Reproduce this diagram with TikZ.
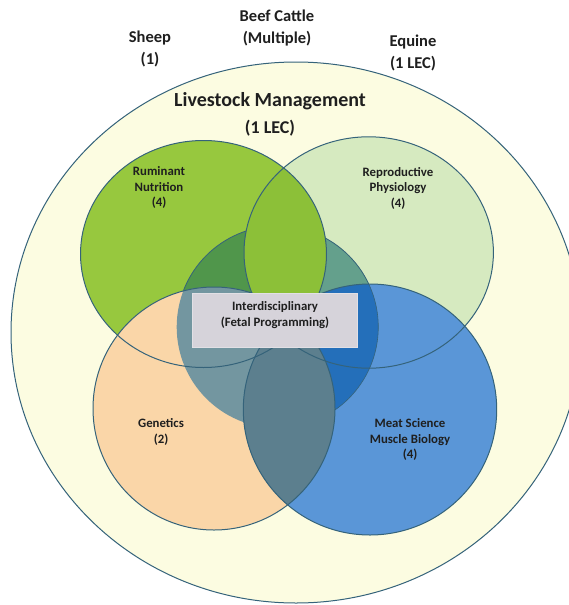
\documentclass[tikz,border=0pt]{standalone}
\usepackage{fontspec}
\setmainfont{Carlito}
\begin{document}
\begin{tikzpicture}[x=1pt,y=-1pt,
  lbl/.style={font=\bfseries, text=black!88, align=center, inner sep=0pt},
  toplbl/.style={lbl, font=\fontsize{16.5}{22}\selectfont\bfseries},
  inlbl/.style={lbl, font=\fontsize{12.8}{15.5}\selectfont\bfseries},
  ring/.style={draw=lineC, line width=1pt}
]
\definecolor{outerF}{HTML}{FCFCE1}
\definecolor{lineC}{HTML}{35637A}
\definecolor{rumF}{HTML}{97C83E}
\definecolor{repF}{HTML}{D6EAC0}
\definecolor{lensRR}{HTML}{8CC038}
\definecolor{cenRum}{HTML}{50964B}
\definecolor{cenRep}{HTML}{64A08C}
\definecolor{genF}{HTML}{FAD6A8}
\definecolor{cenGen}{HTML}{7396A0}
\definecolor{meatF}{HTML}{5A96D7}
\definecolor{cenMeat}{HTML}{246FBA}
\definecolor{genMeat}{HTML}{5C7F8E}
\definecolor{boxF}{HTML}{D6D3DA}
\definecolor{boxL}{HTML}{E2E0E5}

\def\outerE{(296,332.5) ellipse [x radius=285pt, y radius=270.5pt]}
\def\rumE{(203.5,254) ellipse [x radius=123pt, y radius=113.5pt]}
\def\repE{(368.7,252.5) ellipse [x radius=124.7pt, y radius=115.7pt]}
\def\cenE{(277.5,327) ellipse [x radius=100.8pt, y radius=101pt]}
\def\genE{(214,408.5) ellipse [x radius=121pt, y radius=121.5pt]}
\def\meatE{(370,409.5) ellipse [x radius=126.7pt, y radius=125.5pt]}

\useasboundingbox (0,0) rectangle (569,605);
\fill[white] (0,0) rectangle (569,605);
\clip (0,0) rectangle (569,605);

% outer circle
\fill[outerF] \outerE;

% ruminant and reproductive
\fill[rumF] \rumE;
\fill[repF] \repE;

% central circle
\fill[cenRum] \cenE;
\begin{scope}
  \clip \repE;
  \fill[cenRep] \cenE;
\end{scope}
\draw[lineC, line width=0.8pt] \cenE;

% lens ruminant/reproductive
\begin{scope}
  \clip \rumE;
  \fill[lensRR] \repE;
\end{scope}

% genetics
\fill[genF] \genE;
\begin{scope}
  \clip \genE;
  \fill[cenGen] \cenE;
\end{scope}

% meat science
\fill[meatF] \meatE;
\begin{scope}
  \clip \meatE;
  \fill[cenMeat] \cenE;
  \draw[lineC, line width=0.6pt] \cenE;
\end{scope}
\begin{scope}
  \clip \genE;
  \fill[genMeat] \meatE;
\end{scope}

% outlines
\draw[ring] \rumE;
\draw[ring] \repE;
\draw[ring] \genE;
\draw[ring] \meatE;
\draw[ring] \outerE;

% interdisciplinary box
\node[draw=boxL, fill=boxF, line width=0.8pt, minimum width=165pt, minimum height=54pt, inner sep=0pt] (box) at (274.5,320) {};
\node[inlbl] (inter) at (275,315) {Interdisciplinary\\(Fetal Programming)};

% labels
\node[toplbl] (sheep) at (150,48.5) {Sheep\\(1)};
\node[toplbl] (beef) at (277,28) {Beef Cattle\\(Multiple)};
\node[toplbl] (equine) at (413,53) {Equine\\(1 LEC)};
\node[lbl, font=\fontsize{20}{27}\selectfont\bfseries] (lm) at (270,114) {Livestock Management\\{\fontsize{18}{27}\selectfont (1 LEC)}};

\node[inlbl] (rum) at (159,187.5) {Ruminant\\Nutrition\\(4)};
\node[inlbl] (rep) at (398,188) {Reproductive\\Physiology\\(4)};
\node[inlbl] (gen) at (161,432) {Genetics\\(2)};
\node[inlbl] (meat) at (410,439.5) {Meat Science\\Muscle Biology\\(4)};
\end{tikzpicture}
\end{document}
